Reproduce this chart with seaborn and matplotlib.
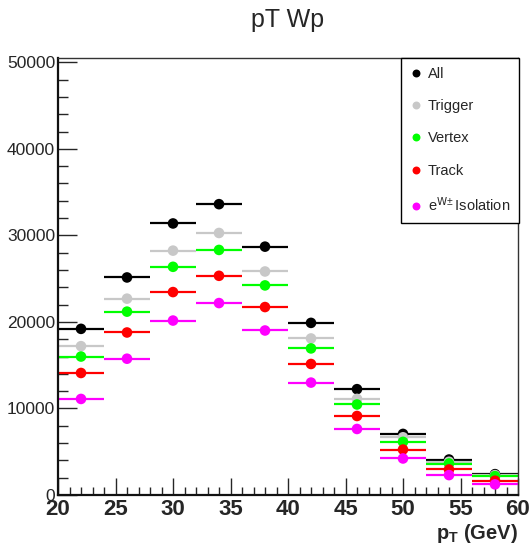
import numpy as np
import pandas as pd
import matplotlib
matplotlib.use("Agg")
import matplotlib.pyplot as plt
import seaborn as sns

# du lieu doc tu hinh
bin_centers = [22, 26, 30, 34, 38, 42, 46, 50, 54, 58]
bin_half_width = 2

all_counts = [19200, 25140, 31380, 33610, 28700, 19890, 12230, 7060, 4100, 2410]
trigger_counts = [17200, 22690, 28240, 30280, 25830, 18090, 11110, 6670, 3840, 2300]
vertex_counts = [16000, 21190, 26370, 28320, 24220, 16940, 10460, 6140, 3640, 2180]
track_counts = [14100, 18780, 23450, 25330, 21720, 15140, 9130, 5250, 2950, 1650]
iso_counts = [11100, 15750, 20160, 22180, 19010, 12990, 7630, 4220, 2300, 1230]

series_names = ["All", "Trigger", "Vertex", "Track", "e$^{\\mathrm{W}\\!\\pm}$Isolation"]
series_colors = ["#000000", "#c8c8c8", "#00ff00", "#ff0000", "#ff00ff"]

sns.set_style("white")
plt.rcParams["font.family"] = ["Liberation Sans", "DejaVu Sans"]
plt.rcParams["mathtext.default"] = "regular"

rows = []
for name, vals in zip(series_names, [all_counts, trigger_counts, vertex_counts, track_counts, iso_counts]):
    for x, y in zip(bin_centers, vals):
        rows.append({"pt": x, "count": y, "cut": name})
df = pd.DataFrame(rows)

fig = plt.figure(figsize=(5.32, 5.50), dpi=100)
ax = fig.add_axes([58 / 532, 55 / 550, 460 / 532, 437 / 550])

# thanh sai so ngang
for name, color in zip(series_names, series_colors):
    sub = df[df["cut"] == name]
    ax.errorbar(sub["pt"], sub["count"], xerr=bin_half_width, fmt="none",
                ecolor=color, elinewidth=1.6, capsize=0, zorder=2)

sns.scatterplot(data=df, x="pt", y="count", hue="cut", hue_order=series_names,
                palette=series_colors, s=58, edgecolor="none", ax=ax, zorder=3)

ax.set_xlim(20, 60)
ax.set_ylim(0, 50500)
ax.set_xticks(np.arange(20, 61, 5))
ax.set_xticks(np.arange(20, 61, 1), minor=True)
ax.set_yticks(np.arange(0, 50001, 10000))
ax.set_yticks(np.arange(0, 50001, 2000), minor=True)
ax.tick_params(axis="x", which="major", direction="in", length=12, width=1, labelsize=16, pad=3)
ax.tick_params(axis="x", which="minor", direction="in", length=6, width=1)
ax.tick_params(axis="y", which="major", direction="in", length=14, width=1, labelsize=12.5, pad=2)
ax.tick_params(axis="y", which="minor", direction="in", length=7, width=1)
ax.tick_params(bottom=True, left=True, which="both")
for lab in ax.get_xticklabels():
    lab.set_fontweight("bold")

for side in ["top", "right"]:
    ax.spines[side].set_linewidth(1.0)
    ax.spines[side].set_color("#333333")
for side in ["left", "bottom"]:
    ax.spines[side].set_linewidth(1.6)
    ax.spines[side].set_color("#111111")

ax.set_xlabel("p$_{T}$ (GeV)", fontsize=14.5, fontweight="bold", loc="right", labelpad=1)
ax.set_ylabel("")
fig.text(288 / 532, 1 - 20 / 550, "pT Wp", ha="center", va="center", fontsize=18)

handles, labels = ax.get_legend_handles_labels()
leg = ax.legend(handles, labels, loc="upper right", bbox_to_anchor=(1.002, 1.0),
                fontsize=10.5, frameon=True, fancybox=False, framealpha=1,
                edgecolor="black", labelspacing=1.26, borderpad=0.6,
                handletextpad=0.35, handlelength=0.9, markerscale=0.75,
                borderaxespad=0)
leg.get_frame().set_linewidth(1.0)

fig.savefig("out.png", dpi=100)
